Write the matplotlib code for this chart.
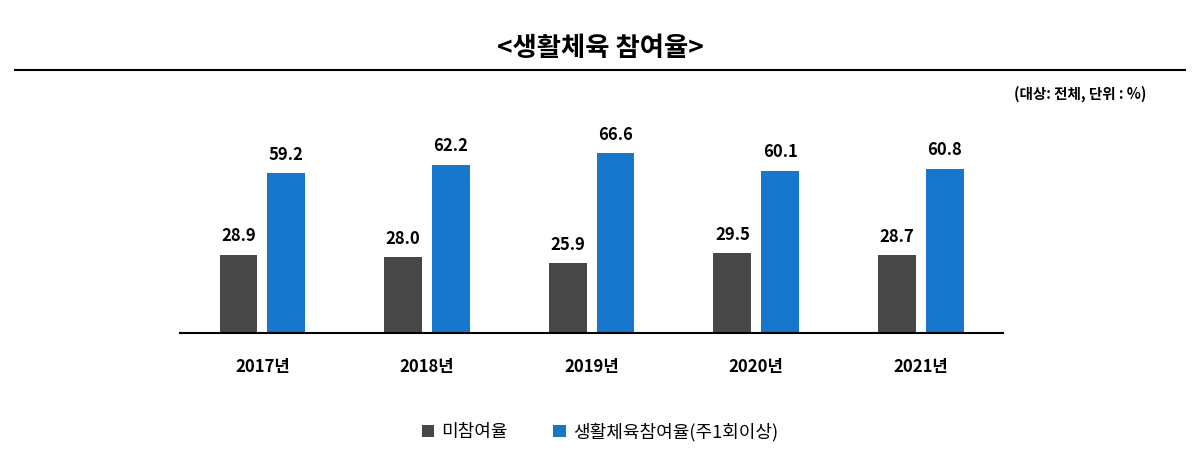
import matplotlib.pyplot as plt
import numpy as np

plt.rcParams['font.family'] = ['Noto Sans CJK JP', 'Noto Sans CJK KR', 'Noto Sans CJK SC', 'DejaVu Sans']

# data
years = ['2017년', '2018년', '2019년', '2020년', '2021년']
non_part = [28.9, 28.0, 25.9, 29.5, 28.7]
part = [59.2, 62.2, 66.6, 60.1, 60.8]

fig = plt.figure(figsize=(12, 4.58), dpi=100)
ax = fig.add_axes([0.15, 0.273, 0.686, 0.472])

x = np.arange(len(years))
w = 0.23
b1 = ax.bar(x - 0.145, non_part, w, color='#474747', label='미참여율')
b2 = ax.bar(x + 0.145, part, w, color='#1677cc', label='생활체육참여율(주1회이상)')
for bars in (b1, b2):
    for r in bars:
        ax.text(r.get_x() + r.get_width() / 2, r.get_height() + 3.5, '%.1f' % r.get_height(),
                ha='center', va='bottom', fontsize=12, fontweight='bold')

ax.set_xlim(-0.5, 4.5)
ax.set_ylim(0, 80)
ax.set_yticks([])
ax.set_xticks(x)
ax.set_xticklabels(years, fontsize=12, fontweight='bold')
ax.tick_params(axis='x', length=0, pad=18)
for s in ['top', 'right', 'left']:
    ax.spines[s].set_visible(False)
ax.spines['bottom'].set_linewidth(1.5)

fig.text(0.5, 0.895, '<생활체육 참여율>', ha='center', va='center', fontsize=19, fontweight='bold')
fig.add_artist(plt.Line2D([0.0125, 0.9875], [0.847, 0.847], color='black', lw=1.5))
fig.text(0.955, 0.795, '(대상: 전체, 단위 : %)', ha='right', va='center', fontsize=10.5, fontweight='bold')

fig.legend(handles=[b1, b2], loc='center', bbox_to_anchor=(0.5, 0.057), ncol=2, frameon=False,
           fontsize=13, handlelength=0.7, handleheight=0.7, columnspacing=2.5, handletextpad=0.4)

fig.savefig('out.png', dpi=100)
